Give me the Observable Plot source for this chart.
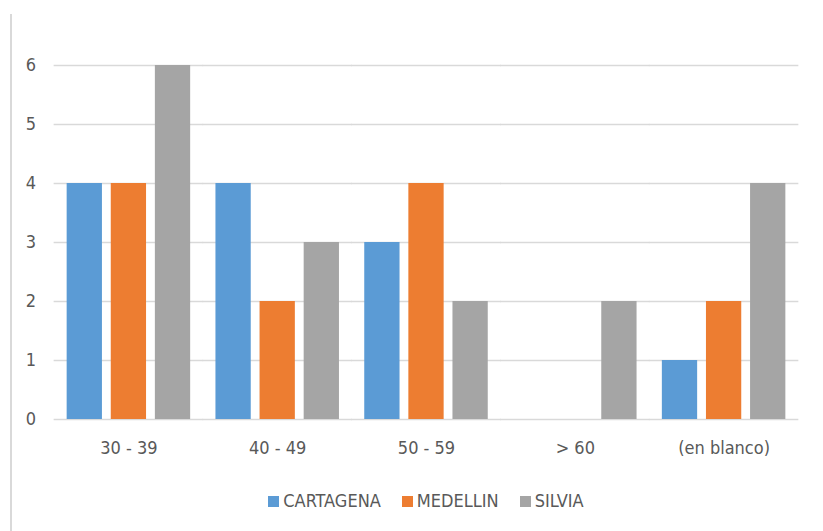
<!DOCTYPE html>
<html><head><meta charset="utf-8">
<script src="https://cdn.jsdelivr.net/npm/d3@7"></script>
<script src="https://cdn.jsdelivr.net/npm/@observablehq/plot@0.6"></script>
<style>
body{margin:0;background:#fff;font-family:"DejaVu Sans Condensed",sans-serif;}
#wrap{position:relative;width:823px;height:531px;overflow:hidden;background:#fff}
#border{position:absolute;left:10px;top:14px;width:2px;height:517px;background:#d9d9d9}
#chart{position:absolute;left:0;top:0}
#legend{position:absolute;top:490px;left:54px;width:744px;display:flex;justify-content:center;align-items:center;gap:21px;font-size:18px;color:#595959;line-height:22px}
#legend .item{display:flex;align-items:center;gap:4px}
#legend .sw{width:11px;height:11px;display:inline-block}
</style></head>
<body>
<div id="wrap"><div id="border"></div><div id="chart"></div><div id="legend"></div></div>
<script>
const categories = ["30 - 39", "40 - 49", "50 - 59", "> 60", "(en blanco)"];
const series = ["CARTAGENA", "MEDELLIN", "SILVIA"];
const cartagena = [4, 4, 3, 0, 1];
const medellin = [4, 2, 4, 0, 2];
const silvia = [6, 3, 2, 2, 4];
const colors = ["#5B9BD5", "#ED7D31", "#A5A5A5"];
const yTicks = [0, 1, 2, 3, 4, 5, 6];

const values = [cartagena, medellin, silvia];
const data = [];
categories.forEach((c, i) => series.forEach((s, j) => data.push({category: c, series: s, value: values[j][i]})));

const chart = Plot.plot({
  width: 823,
  height: 470,
  marginLeft: 54,
  marginRight: 25,
  marginTop: 65,
  marginBottom: 51,
  style: {fontSize: "18px", fontFamily: "'DejaVu Sans Condensed',sans-serif", color: "#595959", background: "transparent"},
  fx: {domain: categories, paddingInner: 0.17, paddingOuter: 0.085, round: false, axis: "bottom", tickSize: 0, tickPadding: 22, label: null},
  x: {domain: series, paddingInner: 0.2, paddingOuter: 0, round: false, axis: null},
  y: {domain: [0, 6], ticks: yTicks, tickFormat: "d", tickSize: 0, tickPadding: 31, label: null},
  color: {domain: series, range: colors},
  marks: [
    Plot.ruleY(yTicks, {stroke: "#d9d9d9", strokeWidth: 1.5, insetLeft: -13, insetRight: -13}),
    Plot.barY(data, {fx: "category", x: "series", y: "value", fill: "series"})
  ]
});
document.getElementById("chart").appendChild(chart);

const legend = document.getElementById("legend");
series.forEach((s, j) => {
  const item = document.createElement("span");
  item.className = "item";
  const sw = document.createElement("span");
  sw.className = "sw";
  sw.style.background = colors[j];
  const t = document.createElement("span");
  t.textContent = s;
  item.appendChild(sw); item.appendChild(t);
  legend.appendChild(item);
});
</script>
</body></html>
